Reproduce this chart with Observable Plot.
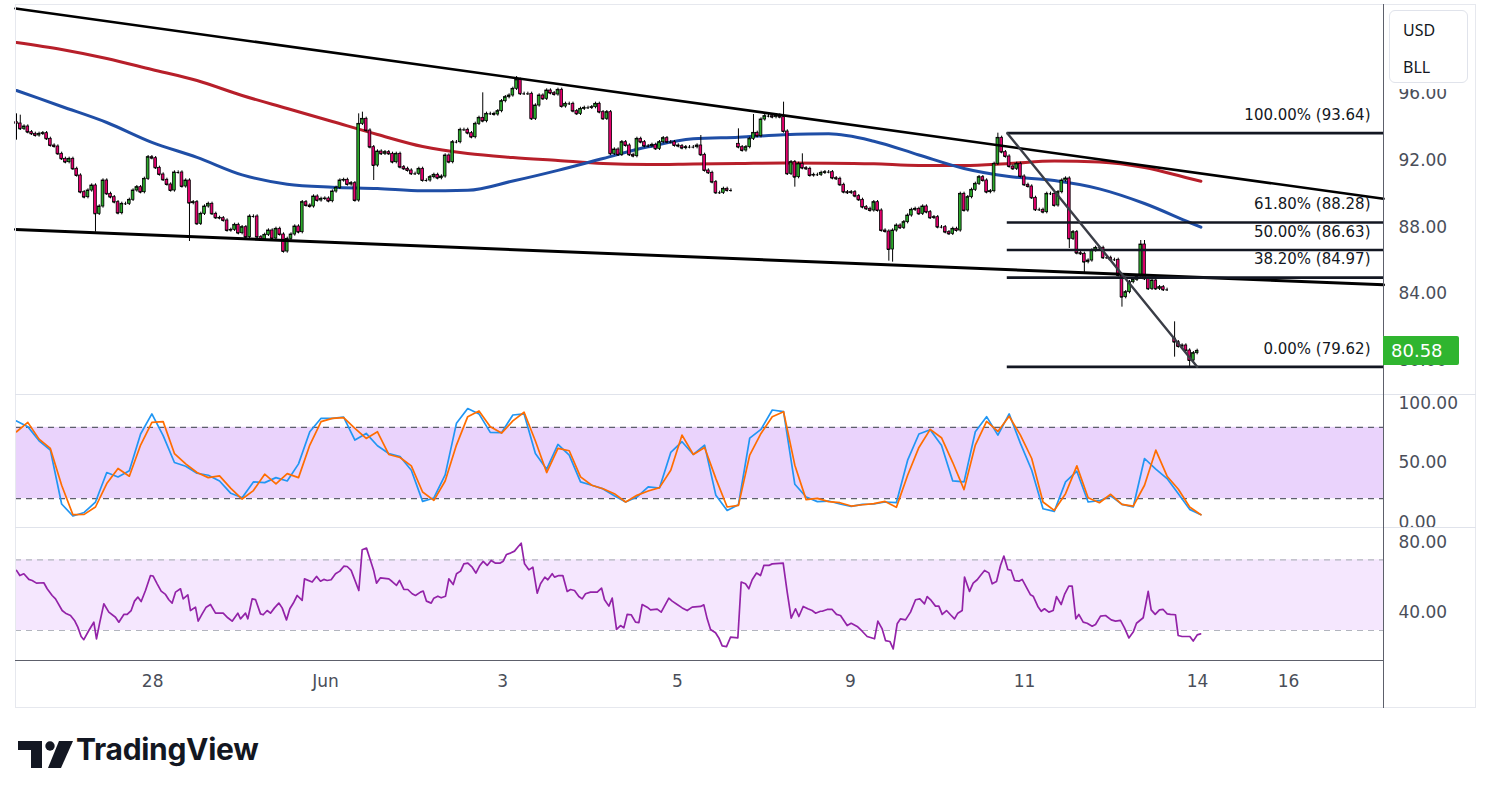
<!DOCTYPE html>
<html><head><meta charset="utf-8">
<script src="https://cdn.jsdelivr.net/npm/d3@7"></script>
<script src="https://cdn.jsdelivr.net/npm/@observablehq/plot@0.6"></script>
<style>
body{margin:0;background:#fff;font-family:"DejaVu Sans",sans-serif;}
#wrap{position:relative;width:1491px;height:799px;overflow:hidden;background:#fff;}
.pane{position:absolute;left:0;}
.ln{position:absolute;box-sizing:border-box;}
#box{position:absolute;left:1389px;top:10px;width:79px;height:73px;border:1px solid #e0e3eb;border-radius:6px;background:#fff;box-sizing:border-box;font-family:"Noto Sans",sans-serif;font-size:16px;color:#131722;}
#box div{position:absolute;left:13px;}
#last{position:absolute;left:1383px;width:76px;height:29px;background:#2fb52f;color:#fff;font-size:18px;line-height:29px;text-indent:8px;border-radius:0 2px 2px 0;}
#logo{position:absolute;left:18px;top:738px;}
#logotext{position:absolute;left:76px;top:731px;font-family:"Inter",sans-serif;font-weight:700;font-size:30px;color:#131722;letter-spacing:-0.3px;}
</style></head><body><div id="wrap"></div>
<script>
// ---------- time axis (hourly bars, hour index) ----------
const timeTicks = [36.2, 82.2, 129.3, 175.8, 221.8, 268.1, 314.1, 338.3];
const timeTickLabels = ["28", "Jun", "3", "5", "9", "11", "14", "16"];
const xDomain = [-0.27, 363.56];

// ---------- price pane ----------
const priceTicks = [80, 84, 88, 92, 96];
const close = [
94.22,93.90,94.04,93.70,93.60,93.50,93.60,93.64,93.30,92.90,
92.84,92.40,92.10,91.90,92.10,91.50,91.10,90.10,89.80,90.20,
90.50,88.80,89.24,90.80,90.00,89.80,89.50,88.84,89.40,89.40,
89.64,90.20,90.40,90.10,90.90,92.20,92.14,91.56,91.16,90.84,
90.56,90.20,91.28,91.28,90.44,90.80,89.44,89.50,88.20,88.80,
89.24,89.40,88.80,88.56,88.54,88.40,87.80,87.84,88.14,87.64,
88.00,87.40,88.64,88.64,87.40,87.26,87.54,87.80,87.32,87.90,
87.56,86.54,87.30,87.56,88.04,87.70,
89.50,89.30,89.24,89.84,89.60,89.70,89.72,89.56,90.14,90.36,
90.80,90.84,90.56,90.64,89.60,94.20,94.50,93.80,92.80,91.70,
92.54,92.40,92.50,92.40,91.90,92.40,91.60,91.50,91.40,91.20,
91.20,91.50,90.80,90.80,91.00,91.14,90.94,91.04,92.30,91.90,
93.10,93.10,93.84,93.84,93.64,93.40,94.20,94.56,94.36,94.80,
94.80,94.76,94.96,95.56,95.80,95.90,96.30,96.84,96.00,96.00,
96.00,94.50,95.30,95.90,95.70,96.20,96.04,95.96,96.24,95.24,
95.40,95.40,94.96,94.80,95.10,95.16,95.16,95.20,95.40,94.90,
94.50,94.90,92.40,
92.66,92.34,93.10,92.90,92.34,92.26,93.30,93.10,92.86,92.86,
92.94,92.70,93.10,93.34,93.10,93.10,92.90,92.86,92.74,92.80,
92.80,92.80,92.90,92.34,91.40,91.26,90.70,90.06,90.06,90.30,
90.20,90.20,null,92.80,92.60,92.80,93.30,93.66,93.46,94.46,
94.66,94.66,94.60,94.70,94.60,93.74,91.20,91.90,91.00,91.80,
91.54,91.50,91.10,91.14,91.14,91.26,91.30,91.30,90.94,90.90,
90.54,90.10,90.06,90.10,89.86,89.64,89.20,89.10,89.00,89.50,
89.00,87.80,87.74,86.66,
87.80,88.10,87.96,88.30,88.70,89.04,89.10,88.80,89.24,88.90,
88.56,88.60,88.00,88.00,87.70,87.60,87.90,87.80,90.00,89.00,
89.80,90.24,90.60,91.00,90.80,90.10,90.16,91.80,93.36,92.50,
92.24,91.64,91.50,91.80,91.04,90.54,90.44,89.76,89.04,89.04,
88.90,90.00,90.00,89.30,90.10,90.80,90.92,87.30,87.70,86.44,
86.40,85.90,86.00,86.60,86.76,86.76,86.16,86.16,86.04,86.04,
85.10,83.80,84.10,84.70,84.84,85.04,86.96,84.90,84.30,84.80,
84.30,84.40,84.24,84.24,null,81.10,80.84,80.90,80.60,80.00,
80.44,80.58
];
// opens after a session gap (otherwise a bar opens at the previous close)
const gapOpen = {0: 94.30, 192: 93.00, 308: 81.32};
// wick lengths beyond the body (price units); unlisted bars have a typical short wick
const typicalWick = 0.1;
const wickUp = {0:0.5, 1:0.5, 91:0.6, 92:0.4, 124:1.5, 133:0.2, 182:0.6, 192:0.9, 196:1.1, 204:0.9, 209:0.6, 261:0.28, 299:0.24, 300:0.24, 308:1.0};
const wickDn = {0:1.0, 21:1.1, 46:2.3, 95:0.9, 207:0.6, 232:0.7, 233:0.76, 280:0.58, 284:0.7, 294:0.6, 308:0.9, 312:0.38};

// moving averages, read every 12 hours
const maHours = [0,12,24,36,48,60,72,84,96,108,120,132,144,156,168,180,192,204,216,228,240,252,264,276,288,300,312,315];
const maSlow = [99.08,98.66,98.12,97.46,96.80,95.90,95.12,94.34,93.56,92.84,92.42,92.18,92.00,91.82,91.76,91.79,91.82,91.85,91.84,91.80,91.70,91.70,91.82,91.97,91.91,91.58,90.92,90.76];
const maFast = [96.20,95.24,94.28,93.09,92.19,91.14,90.58,90.40,90.32,90.18,90.21,90.77,91.41,92.12,92.82,93.30,93.40,93.54,93.60,93.16,92.33,91.52,91.04,90.80,90.30,89.42,88.28,88.00];

// drawings
const upperTrendHours = [-0.27, 363.56], upperTrendPrices = [101.12, 89.70];
const lowerTrendHours = [-0.27, 363.56], lowerTrendPrices = [87.86, 84.54];
const fibLevels = [100, 61.8, 50, 38.2, 0];
const fibPrices = [93.64, 88.28, 86.63, 84.97, 79.62];
const fibStartHour = 263.5, fibEndHour = 314.0;
const lastPrice = 80.58;

// ---------- stochastic, read every 3 hours ----------
const oscStepHours = 3;
const stochK = [85.4,80.6,68.7,60.8,15.5,5.4,8.4,17.2,42,38.3,43.4,74.4,91.3,73,50.4,47.3,41.4,39.7,34.9,24.5,20.8,34.1,33.5,37.7,34.9,49.3,76.3,87.6,87.6,88.7,69.3,74.9,64.5,58,55.5,43.9,
17.7,20.6,40,83.4,95.8,91.3,75.8,75.5,90.4,91.3,58,44.8,65.6,56.6,34.1,31.3,28.2,22.5,17.2,21.4,29.9,29,58.9,67.9,57.2,65,22.8,10.1,14.9,71,78.3,94.6,93.2,32.1,21.4,17.5,
18,15.5,13.5,15.2,15.5,17.2,16.6,52.4,74.4,78,65,34.9,34.1,76.3,89,73.5,91.3,66.5,43.9,11.5,9.3,34.1,43.1,17.2,18.3,22.3,15.2,13,53.8,44.8,36.9,24.2,11,6.5];
const stochD = [76.3,84.2,70.1,62.3,31.3,6.5,6.8,13,32.7,45.4,38.9,65.1,84.2,84.8,58,49.3,42,37.7,39.2,28.7,19.7,26.8,40.6,32.4,41.1,37.7,65.1,84.8,87.6,88.2,79.2,70.7,76.3,57.2,54.6,47.6,
25.6,18.6,34.9,65.1,89,93.8,80.6,75.2,85.4,92.7,68.5,42,62.3,60.3,38.3,31.3,28.4,24.2,17.2,22.8,26.5,29.3,43.9,73.5,57.2,63.1,36.9,13,14.4,56.6,74.9,89,93.2,48.2,19.2,20.3,
17.5,16.6,13.8,14.9,15.8,17.7,12.7,39.7,63.1,78.3,71.3,50.4,27.6,65.1,85.1,76.6,89.3,73.5,53.8,17.2,10.1,24.2,47.6,20.8,16.6,23.7,15.2,13.8,31.3,60.8,38.9,27.9,13,6.5];
const stochTicks = [0, 50, 100], stochBand = [20, 80];

// ---------- RSI, read at each turning point (hour, value) ----------
const rsiHours = [0,0.88,1.95,3.28,4.16,5.31,7.26,8.15,9.48,10.37,12.14,13.03,14.36,15.42,16.31,17.19,17.9,19.23,20.56,21.27,22.16,23.22,24.55,26.32,27.21,28.54,29.43,30.49,31.38,32.27,33.15,34.3,35.63,36.34,37.41,38.47,39.62,40.51,41.39,42.28,43.61,44.32,45.56,46.27,47.6,48.31,49.38,50.44,51.59,52.92,54.96,56.2,57.35,58.86,59.57,60.9,61.52,62.67,63.56,64.89,65.6,66.66,67.55,68.61,69.77,70.65,71.8,72.69,73.75,74.64,75.97,76.59,78.63,79.78,80.85,81.73,82.62,83.68,84.84,85.99,87.05,87.94,89.0,91.04,91.93,93.08,94.14,95.03,95.74,96.8,99.02,99.9,101.06,101.86,103.01,104.07,105.23,106.11,107.44,
108.16,109.04,110.29,110.99,112.06,112.95,114.1,114.98,116.14,117.02,118.09,118.97,120.04,121.19,122.17,123.23,124.12,125.18,126.24,127.4,128.55,129.44,130.32,131.39,132.45,133.34,134.22,135.11,136.26,137.33,138.48,139.36,140.52,141.31,142.47,143.09,144.24,145.3,146.46,147.34,148.41,149.56,150.45,151.33,152.66,154.44,155.59,156.39,157.54,158.43,159.58,160.64,161.53,162.41,163.48,164.63,165.52,166.4,167.73,168.62,170.39,171.46,173.49,174.38,175.71,177.04,178.37,179.7,181.92,182.8,183.69,184.58,185.91,186.79,187.68,188.83,189.89,191.84,192.73,193.88,194.77,195.66,196.81,197.87,198.76,200.09,200.98,203.9,204.97,206.03,207.18,208.07,209.22,210.46,211.61,212.5,213.83,
214.27,215.6,216.93,218.08,219.15,220.92,221.99,223.58,224.91,226.24,228.19,229.08,230.23,231.12,232.27,233.16,234.22,235.11,236.44,237.77,239.1,240.25,241.49,242.2,243.26,244.41,245.3,246.19,247.34,248.4,249.47,250.35,251.51,252.13,253.46,254.43,255.5,256.38,257.45,258.6,259.48,260.64,261.7,262.59,263.65,264.54,265.43,266.58,267.46,269.68,270.39,271.63,272.52,273.4,274.56,275.71,276.6,277.84,278.73,279.87,280.76,281.74,282.53,283.69,284.75,286.08,286.97,288.3,289.63,291.14,292.29,293.62,294.68,295.84,296.99,297.87,299.65,300.98,301.77,302.84,303.99,304.96,306.03,306.92,308.24,308.95,310.02,312.06,312.95,314.01,314.9];
const rsiValues = [64,61.1,62.1,58.9,58.3,56.8,57,53.6,49.8,47.9,41.3,39.8,38.5,35.7,31.9,26.6,24.8,30,34.7,25.3,34.7,45.1,40.4,37.5,34.7,39.1,39.1,41.3,46.6,48.9,46.4,52.6,61.1,60.8,56.4,52.3,50.4,47.4,45.5,51.7,53.6,47.9,50.2,41.3,43.2,35.3,39.4,43.2,44.7,39.8,39.8,37.2,35.3,39.8,36.6,39.8,36.6,47.9,47.5,39.4,38.9,41.3,39.8,42.8,45.5,42.8,36,42.3,46,49.8,47,59.2,57.4,60.6,57.9,58.9,58.3,58.7,62.1,63.6,66.4,66.2,64,52.6,75.7,76.6,69.6,63.6,56.8,59.8,59.2,57.7,55.5,58.3,53.2,53.2,50.8,49.8,51.7,
52.3,46.6,45.5,48.3,49.4,48.5,49.4,59.2,56,62.1,63.6,67.7,68.1,65.8,62.5,66.8,69.1,66.8,69.6,68.1,68.1,69.2,73,73.8,74.9,77.2,79.4,67.7,64.3,65.8,51.1,56.4,60.2,58.7,62.1,60.2,61.1,61.1,52.1,53.2,52.6,49.2,47.9,50.8,51.7,51.7,54,47.4,43.8,48.3,30.6,32.8,31.5,39.1,38.9,34.7,34.5,44.7,43.2,41.7,42.1,40.4,48.3,46.6,44.7,42.8,41.3,43.2,43.6,44.5,36.6,30.6,28.7,25.8,21.3,20.9,26.2,25.8,57.4,56.4,53.6,58.7,62.5,61.1,66.8,66.8,67.7,68.1,51.7,37,42.3,37.9,43.6,42.3,41.3,39.8,40.9,
40.9,41.9,41.9,39.1,38.5,32.8,34.1,32.3,29.6,26.6,25.3,35.3,30.9,24.3,23.8,19.6,33.8,36.6,36,40.4,47.4,47.9,45.1,49.2,47,43.8,43.8,39.1,41.3,38.9,36.6,39.8,41.3,60.2,52.1,56.8,58.7,61.1,64,62.6,56.4,57.7,66.8,72.1,64.5,64,58.3,57.9,58.9,50.2,49.4,43.6,40.9,42.3,40.4,41.3,49.2,44.7,50.4,55.1,55.1,36.6,39.1,34.7,34.1,32.4,33.4,38.1,38.5,36,35.3,35.7,31.5,25.8,29.1,34.1,37.2,52.1,41.7,39.1,41.7,41.9,39.4,39.1,38.9,27.2,26.6,26.6,24,27.5,28.1];
const rsiTicks = [40, 80], rsiBand = [30, 70];

// ---------- build ----------
const candles = [];
close.forEach((c, i) => {
  if (c == null) return;
  const o = gapOpen[i] ?? close[i - 1];
  candles.push({
    h: i, o, c,
    hi: Math.max(o, c) + (wickUp[i] ?? typicalWick),
    lo: Math.min(o, c) - (wickDn[i] ?? typicalWick),
    up: c >= o
  });
});
const maRows = maHours.map((h, i) => ({h, slow: maSlow[i], fast: maFast[i]}));
const osc = stochK.map((k, i) => ({h: i * oscStepHours, k, d: stochD[i]}));
const rsiRows = rsiHours.map((h, i) => ({h, r: rsiValues[i]}));
const fibRows = fibLevels.map((l, i) => ({l, p: fibPrices[i]}));
const trendRows = (hs, ps) => hs.map((h, i) => ({h, p: ps[i]}));

const W = 1491, ML = 15, MR = 108;
const axisStyle = {fontFamily: "DejaVu Sans, sans-serif", fontSize: "17px", color: "#4a4e59", background: "transparent", overflow: "visible"};
const f2 = d3.format(".2f");
const bodyHalf = 0.36;

const main = Plot.plot({
  width: W, height: 388, marginLeft: ML, marginRight: MR, marginTop: 0, marginBottom: 0,
  style: axisStyle,
  x: {domain: xDomain, axis: null},
  y: {domain: [78.02, 101.3], axis: "right", ticks: priceTicks, tickFormat: f2, tickSize: 0, tickPadding: 15, label: null},
  marks: [
    Plot.line(maRows, {x: "h", y: "slow", stroke: "#b71f2a", strokeWidth: 3, curve: "monotone-x"}),
    Plot.line(maRows, {x: "h", y: "fast", stroke: "#1f4ea6", strokeWidth: 3, curve: "monotone-x"}),
    Plot.ruleX(candles, {x: "h", y1: "lo", y2: "hi", stroke: "#000", strokeWidth: 1}),
    Plot.rect(candles, {x1: d => d.h - bodyHalf, x2: d => d.h + bodyHalf, y1: "o", y2: "c", fill: d => d.up ? "#2aa82a" : "#e3006d", stroke: "#000", strokeWidth: 0.8}),
    Plot.ruleY(candles, {y: "c", x1: d => d.h - bodyHalf, x2: d => d.h + bodyHalf, stroke: "#000", strokeWidth: 1}),
    Plot.line(trendRows(upperTrendHours, upperTrendPrices), {x: "h", y: "p", stroke: "#000", strokeWidth: 2.6}),
    Plot.line(trendRows(lowerTrendHours, lowerTrendPrices), {x: "h", y: "p", stroke: "#000", strokeWidth: 3}),
    Plot.ruleY(fibRows, {y: "p", x1: fibStartHour, x2: xDomain[1], stroke: "#131722", strokeWidth: 2.6}),
    Plot.line([{h: fibStartHour, p: fibPrices[0]}, {h: fibEndHour, p: fibPrices[fibPrices.length - 1]}], {x: "h", y: "p", stroke: "#3a3d46", strokeWidth: 2.4}),
    Plot.text(fibRows, {y: "p", frameAnchor: "right", dx: -13, dy: -18, textAnchor: "end", text: d => `${d.l.toFixed(2)}% (${d.p.toFixed(2)})`, fontSize: 15, fill: "#131722", fontFamily: "DejaVu Sans, sans-serif"})
  ]
});

const stoch = Plot.plot({
  width: W, height: 132, marginLeft: ML, marginRight: MR, marginTop: 0, marginBottom: 0,
  style: axisStyle,
  x: {domain: xDomain, axis: null},
  y: {domain: [-4.25, 106.8], axis: "right", ticks: stochTicks, tickFormat: f2, tickSize: 0, tickPadding: 15, label: null},
  marks: [
    Plot.rect([stochBand], {x1: xDomain[0], x2: xDomain[1], y1: d => d[0], y2: d => d[1], fill: "#ead3fc"}),
    Plot.ruleY(stochBand, {stroke: "#5d606b", strokeDasharray: "6,5", strokeWidth: 1.2}),
    Plot.line(osc, {x: "h", y: "k", stroke: "#2196f3", strokeWidth: 1.7}),
    Plot.line(osc, {x: "h", y: "d", stroke: "#ff6d00", strokeWidth: 1.7})
  ]
});

const rsiPlot = Plot.plot({
  width: W, height: 181, marginLeft: ML, marginRight: MR, marginTop: 0, marginBottom: 48,
  style: axisStyle,
  x: {domain: xDomain, ticks: timeTicks, tickFormat: d => timeTickLabels[timeTicks.indexOf(d)], tickSize: 0, tickPadding: 14, label: null},
  y: {domain: [13.03, 88.27], axis: "right", ticks: rsiTicks, tickFormat: f2, tickSize: 0, tickPadding: 15, label: null},
  marks: [
    Plot.rect([rsiBand], {x1: xDomain[0], x2: xDomain[1], y1: d => d[0], y2: d => d[1], fill: "#f5e7fe"}),
    Plot.ruleY(rsiBand, {stroke: "#b2b5be", strokeDasharray: "6,5", strokeWidth: 1.2}),
    Plot.line(rsiRows, {x: "h", y: "r", stroke: "#9323a8", strokeWidth: 1.7})
  ]
});

const wrap = document.getElementById("wrap");
function place(el, top) { el.classList.add("pane"); el.style.top = top + "px"; wrap.appendChild(el); }
place(main, 5);
place(stoch, 395);
place(rsiPlot, 527);

function line(l, t, w, h, c) {
  const d = document.createElement("div"); d.className = "ln";
  Object.assign(d.style, {left: l + "px", top: t + "px", width: w + "px", height: h + "px", background: c});
  wrap.appendChild(d);
}
// frame and pane separators
const fr = document.createElement("div"); fr.className = "ln";
Object.assign(fr.style, {left: "15px", top: "4px", width: "1461px", height: "704px", border: "1px solid #e6e8ee"});
wrap.appendChild(fr);
line(15, 394, 1461, 1, "#e0e3eb");
line(15, 527, 1461, 1, "#e0e3eb");
line(15, 660, 1368, 1, "#5d606b");
line(1383, 4, 1, 704, "#5d606b");

// currency box (covers top of price axis)
const cover = document.createElement("div"); cover.className = "ln";
Object.assign(cover.style, {left: "1386px", top: "5px", width: "88px", height: "84px", background: "#fff"});
wrap.appendChild(cover);
const box = document.createElement("div"); box.id = "box";
box.innerHTML = '<div style="top:8px">USD</div><div style="top:45px">BLL</div>';
wrap.appendChild(box);

// last price label
const lp = document.createElement("div"); lp.id = "last";
lp.textContent = f2(lastPrice);
lp.style.top = (5 + main.scale("y").apply(lastPrice) - 14.5) + "px";
wrap.appendChild(lp);

// logo
const logo = document.createElementNS("http://www.w3.org/2000/svg", "svg");
logo.setAttribute("id", "logo"); logo.setAttribute("width", "56"); logo.setAttribute("height", "32");
logo.innerHTML = '<path d="M0 3h24v27h-11V12H0z" fill="#131722"/><circle cx="32" cy="8" r="4.7" fill="#131722"/><path d="M41 3h14L43 30H30z" fill="#131722"/>';
wrap.appendChild(logo);
const lt = document.createElement("div"); lt.id = "logotext"; lt.textContent = "TradingView";
wrap.appendChild(lt);
</script></body></html>
